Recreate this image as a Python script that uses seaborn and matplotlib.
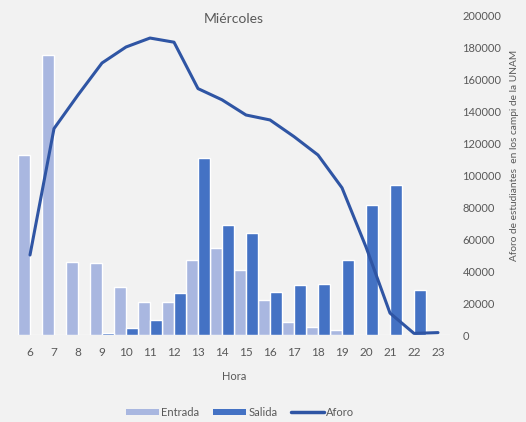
import pandas as pd
import numpy as np
import matplotlib
matplotlib.use("Agg")
import matplotlib.pyplot as plt
import seaborn as sns
from matplotlib.patches import Patch
from matplotlib.lines import Line2D

# datos
horas = [6, 7, 8, 9, 10, 11, 12, 13, 14, 15, 16, 17, 18, 19, 20, 21, 22, 23]
entrada = [112500, 175000, 45600, 45000, 30000, 20600, 20600, 47000, 54400, 40600,
           22000, 8000, 5000, 3000, 0, 0, 0, 0]
salida = [0, 0, 300, 1200, 4400, 9400, 26000, 110600, 68700, 63700,
          27000, 31000, 32000, 47000, 81000, 93700, 28000, 300]
aforo = [50000, 129000, 150000, 170000, 180000, 185600, 183000, 154000, 147000, 137500,
         134400, 124000, 112500, 92000, 55000, 13700, 1000, 1500]

c_entrada = '#a9b7e0'
c_salida = '#4472c4'
c_aforo = '#2f55a4'
gris = '#595959'
fondo = '#f2f2f2'

sns.set_theme(style='white')
plt.rcParams['font.family'] = ['Lato', 'DejaVu Sans']

df = pd.DataFrame({'Hora': [str(h) for h in horas], 'Entrada': entrada, 'Salida': salida})
df_long = df.melt(id_vars='Hora', var_name='Tipo', value_name='Valor')

fig = plt.figure(figsize=(5.26, 4.22), dpi=100, facecolor=fondo)
ax = fig.add_axes([18 / 526, 1 - 335 / 422, 432 / 526, 320 / 422])
ax.set_facecolor(fondo)

sns.barplot(data=df_long, x='Hora', y='Valor', hue='Tipo',
            palette={'Entrada': c_entrada, 'Salida': c_salida},
            width=0.97, gap=0, saturation=1, legend=False, ax=ax)
ax.set_ylim(0, 200000)
ax.set_xlim(-0.5, len(horas) - 0.5)
ax.set_yticks([])
ax.set_ylabel('')
ax.set_xlabel('Hora', fontsize=8, color=gris, labelpad=9)
ax.tick_params(axis='x', length=0, labelsize=8.5, labelcolor=gris, pad=9)
for s in ax.spines.values():
    s.set_visible(False)

# eje secundario para el aforo
ax2 = ax.twinx()
sns.lineplot(x=np.arange(len(horas)), y=aforo, color=c_aforo, linewidth=2.2, ax=ax2)
ax2.set_ylim(0, 200000)
ax2.set_yticks(np.arange(0, 200001, 20000))
ax2.set_yticklabels([str(v) for v in range(0, 200001, 20000)])
ax2.tick_params(axis='y', length=0, labelsize=8, labelcolor=gris, pad=9)
ax2.set_ylabel('Aforo de estudiantes  en los campi de la UNAM', fontsize=7.3,
               color=gris)
ax2.yaxis.set_label_coords(1.14, 0.56)
for s in ax2.spines.values():
    s.set_visible(False)

fig.text(234 / 526, 1 - 19 / 422, 'Miércoles', ha='center', va='center',
         fontsize=10, color=gris)

handles = [Patch(facecolor=c_entrada, edgecolor='none'),
           Patch(facecolor=c_salida, edgecolor='none'),
           Line2D([0], [0], color=c_aforo, linewidth=2.5)]
leg = fig.legend(handles, ['Entrada', 'Salida', 'Aforo'], loc='center',
                 bbox_to_anchor=(240 / 526, 1 - 412 / 422), ncol=3, frameon=False,
                 fontsize=8, handlelength=3, handleheight=0.45, handletextpad=0.2,
                 columnspacing=1.2)
for t in leg.get_texts():
    t.set_color(gris)

fig.savefig('out.png', dpi=100, facecolor=fondo)
